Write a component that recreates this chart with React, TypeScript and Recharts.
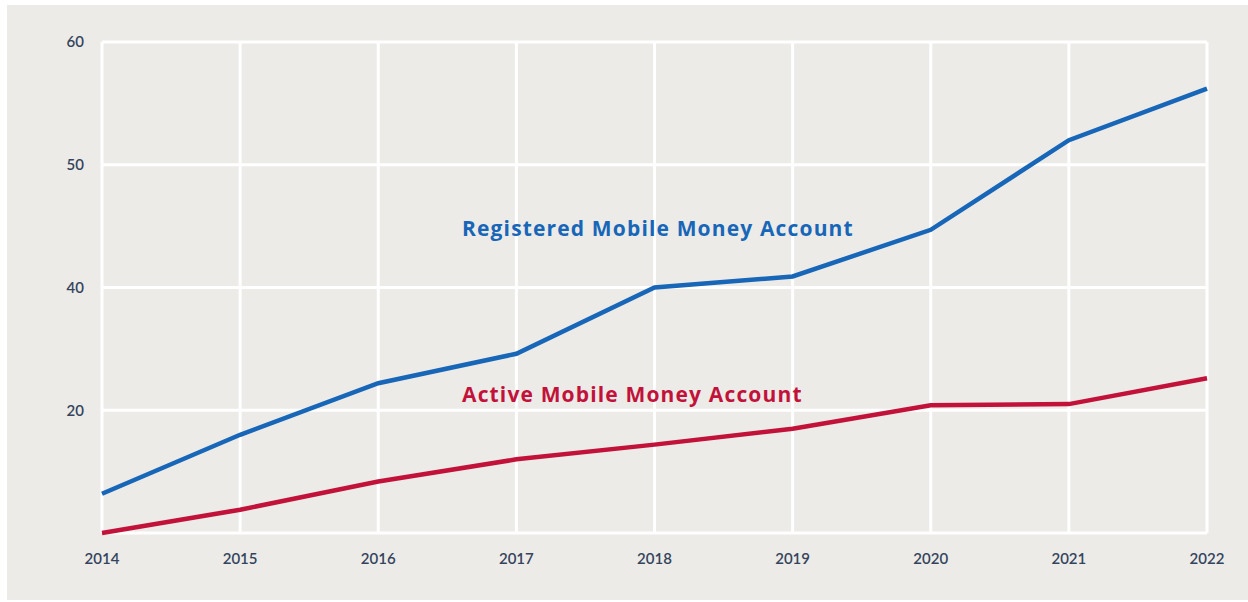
import React from 'react';
import { CartesianGrid, Line, LineChart, XAxis, YAxis } from 'recharts';

const years = ['2014', '2015', '2016', '2017', '2018', '2019', '2020', '2021', '2022'];
const registered = [23.2, 28.0, 32.2, 34.6, 40.0, 40.9, 44.7, 52.0, 56.2];
const active = [20.0, 21.9, 24.2, 26.0, 27.2, 28.5, 30.4, 30.5, 32.6];
const yTicks = [20, 30, 40, 50, 60];
const yTickLabels = ['', '20', '40', '50', '60'];

const data = years.map((year, i) => ({
  year,
  registered: registered[i],
  active: active[i],
}));

const blue = '#1766b8';
const red = '#c2123a';
const tickColor = '#34445c';
const bg = '#ecebe8';

export default function App() {
  const tickStyle = { fill: tickColor, fontSize: 15, fontWeight: 600, fontFamily: 'Lato' };
  return (
    <div
      style={{
        position: 'fixed',
        left: 0,
        top: 0,
        width: 1248,
        height: 602,
        background: '#ffffff',
        fontFamily: 'Lato, sans-serif',
      }}
    >
      <div
        style={{
          position: 'absolute',
          left: 7,
          top: 5,
          width: 1241,
          height: 595,
          background: bg,
        }}
      />
      <div style={{ position: 'absolute', left: 0, top: 0 }}>
        <LineChart
          width={1248}
          height={602}
          data={data}
          margin={{ top: 42, right: 41, left: 42, bottom: 39 }}
        >
          <CartesianGrid stroke="#ffffff" strokeWidth={3} />
          <XAxis
            dataKey="year"
            axisLine={false}
            tickLine={false}
            height={30}
            tickMargin={14}
            tick={tickStyle}
          />
          <YAxis
            type="number"
            domain={[20, 60]}
            ticks={yTicks}
            width={60}
            axisLine={false}
            tickLine={false}
            tickMargin={12}
            tickFormatter={(v: number) => yTickLabels[yTicks.indexOf(v)] ?? ''}
            tick={tickStyle}
          />
          <Line
            type="linear"
            dataKey="registered"
            stroke={blue}
            strokeWidth={4.5}
            dot={false}
            isAnimationActive={false}
          />
          <Line
            type="linear"
            dataKey="active"
            stroke={red}
            strokeWidth={4.5}
            dot={false}
            isAnimationActive={false}
          />
        </LineChart>
      </div>
      <div
        style={{
          position: 'absolute',
          left: 462,
          top: 214,
          color: blue,
          fontSize: 21,
          fontWeight: 700,
          fontFamily: '"Open Sans", sans-serif',
          letterSpacing: 1.15,
          whiteSpace: 'nowrap',
        }}
      >
        Registered Mobile Money Account
      </div>
      <div
        style={{
          position: 'absolute',
          left: 462,
          top: 380,
          color: red,
          fontSize: 21,
          fontWeight: 700,
          fontFamily: '"Open Sans", sans-serif',
          letterSpacing: 1.15,
          whiteSpace: 'nowrap',
        }}
      >
        Active Mobile Money Account
      </div>
    </div>
  );
}
